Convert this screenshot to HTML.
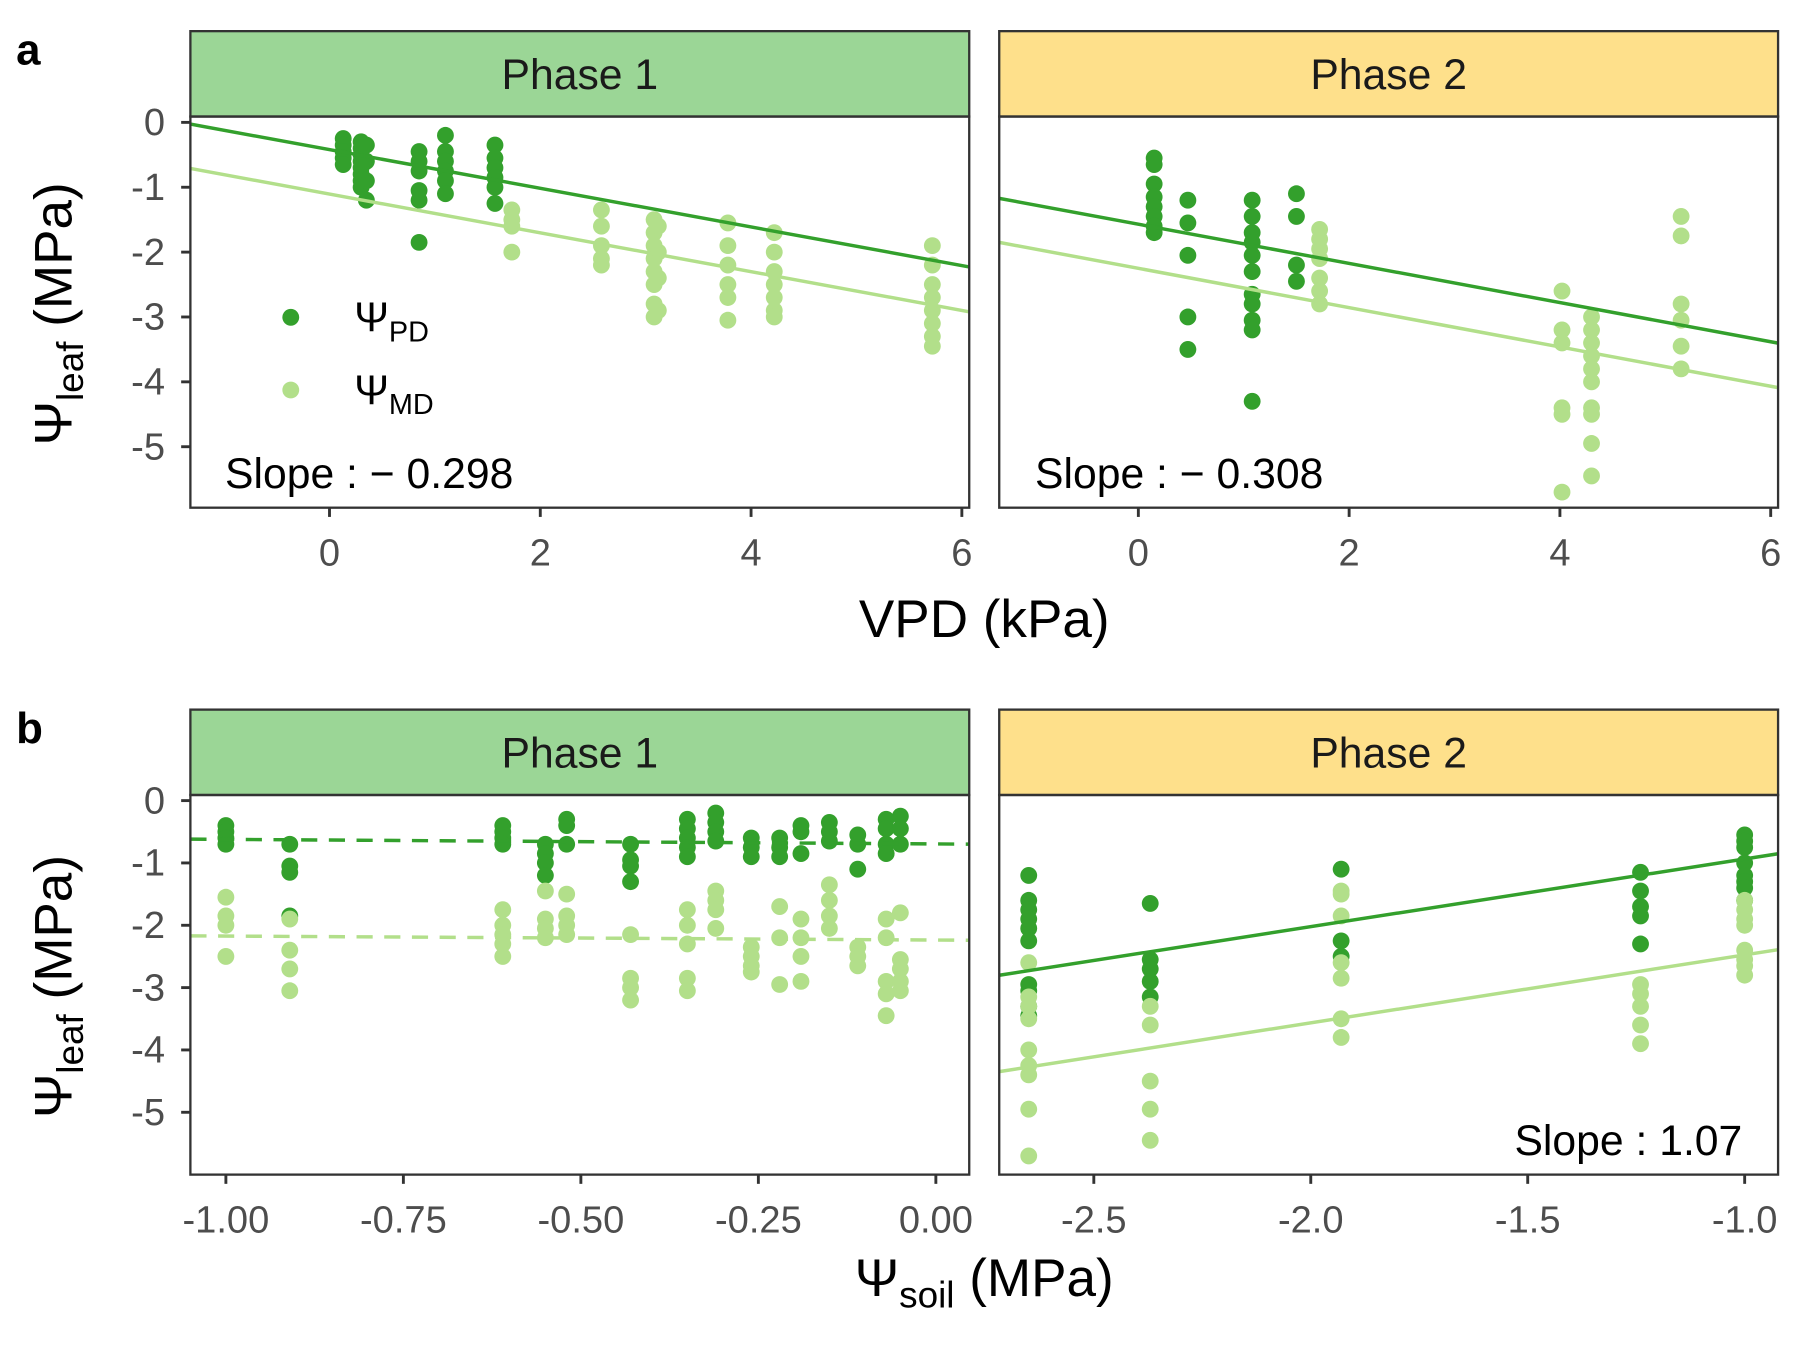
<!DOCTYPE html>
<html><head><meta charset="utf-8"><style>
html,body{margin:0;padding:0;background:#fff}
svg{display:block;font-family:"Liberation Sans",Arial,sans-serif}
</style></head><body>
<svg id="fig" width="1800" height="1350" viewBox="0 0 1560 1170" xmlns="http://www.w3.org/2000/svg">
<text x="14" y="56" font-size="38" font-weight="bold">a</text>
<text x="14" y="644" font-size="38" font-weight="bold">b</text>
<text x="853" y="552" font-size="46" text-anchor="middle">VPD (kPa)</text>
<text x="853" y="1123" font-size="46" text-anchor="middle">Ψ<tspan font-size="32" dy="10">soil</tspan><tspan dy="-10"> (MPa)</tspan></text>
<text transform="translate(62,272) rotate(-90)" font-size="46" text-anchor="middle">Ψ<tspan font-size="32" dy="10">leaf</tspan><tspan dy="-10"> (MPa)</tspan></text>
<text transform="translate(62,855) rotate(-90)" font-size="46" text-anchor="middle">Ψ<tspan font-size="32" dy="10">leaf</tspan><tspan dy="-10"> (MPa)</tspan></text>
<g id="layer"></g>
</svg>
<script>
// ---------- data ----------
const a1PdX=[0.13,0.3,0.35,0.85,1.1,1.57];
const a1PdY=[[-0.25,-0.35,-0.45,-0.55,-0.65],[-0.3,-0.4,-0.5,-0.6,-0.7,-0.8,-0.9,-1.0],[-0.35,-0.6,-0.9,-1.2],[-0.45,-0.6,-0.75,-1.05,-1.2,-1.85],[-0.2,-0.45,-0.6,-0.75,-0.9,-1.1],[-0.35,-0.55,-0.7,-0.85,-1.0,-1.25]];
const a1MdX=[1.73,2.58,3.08,3.12,3.78,4.22,5.72];
const a1MdY=[[-1.35,-1.5,-1.6,-2.0],[-1.35,-1.6,-1.9,-2.1,-2.2],[-1.5,-1.7,-1.9,-2.1,-2.3,-2.5,-2.8,-3.0],[-1.6,-2.0,-2.4,-2.9],[-1.55,-1.9,-2.2,-2.5,-2.7,-3.05],[-1.7,-2.0,-2.3,-2.5,-2.7,-2.9,-3.0],[-1.9,-2.2,-2.5,-2.7,-2.9,-3.1,-3.3,-3.45]];
const a1Fit={pd:[-0.42,-0.298],md:[-1.105,-0.299]};
const a2PdX=[0.15,0.47,1.08,1.5];
const a2PdY=[[-0.55,-0.65,-0.95,-1.15,-1.3,-1.45,-1.6,-1.7],[-1.2,-1.55,-2.05,-3.0,-3.5],[-1.2,-1.45,-1.7,-1.85,-2.05,-2.3,-2.65,-2.8,-3.05,-3.2,-4.3],[-1.1,-1.45,-2.2,-2.45]];
const a2MdX=[1.72,4.02,4.3,5.15];
const a2MdY=[[-1.65,-1.8,-1.95,-2.1,-2.4,-2.6,-2.8],[-2.6,-3.2,-3.4,-4.4,-4.5,-5.7],[-3.0,-3.2,-3.4,-3.6,-3.8,-4.0,-4.4,-4.5,-4.95,-5.45],[-1.45,-1.75,-2.8,-3.05,-3.45,-3.8]];
const a2Fit={pd:[-1.57,-0.302],md:[-2.25,-0.303]};
const b1X=[-1.0,-0.91,-0.61,-0.55,-0.52,-0.43,-0.35,-0.31,-0.26,-0.22,-0.19,-0.15,-0.11,-0.07,-0.05];
const b1PdY=[[-0.4,-0.5,-0.6,-0.7],[-0.7,-1.05,-1.15,-1.85],[-0.4,-0.5,-0.6,-0.7],[-0.7,-0.85,-1.0,-1.2],[-0.3,-0.4,-0.7],[-0.7,-0.95,-1.05,-1.3],[-0.3,-0.45,-0.6,-0.75,-0.9],[-0.2,-0.35,-0.5,-0.65],[-0.6,-0.75,-0.9],[-0.6,-0.75,-0.9],[-0.4,-0.5,-0.85],[-0.35,-0.5,-0.65],[-0.55,-0.7,-1.1],[-0.3,-0.45,-0.7,-0.85],[-0.25,-0.45,-0.7]];
const b1MdY=[[-1.55,-1.85,-2.0,-2.5],[-1.9,-2.4,-2.7,-3.05],[-1.75,-2.0,-2.15,-2.3,-2.5],[-1.45,-1.9,-2.05,-2.2],[-1.5,-1.85,-2.0,-2.15],[-2.15,-2.85,-3.0,-3.2],[-1.75,-2.0,-2.3,-2.85,-3.05],[-1.45,-1.6,-1.75,-2.05],[-2.35,-2.5,-2.65,-2.75],[-1.7,-2.2,-2.95],[-1.9,-2.2,-2.5,-2.9],[-1.35,-1.6,-1.85,-2.05],[-2.35,-2.5,-2.65],[-1.9,-2.2,-2.9,-3.1,-3.45],[-1.8,-2.55,-2.7,-2.9,-3.05]];
const b1Fit={pd:[-0.695,-0.073],md:[-2.237,-0.064]};
const b2X=[-2.65,-2.37,-1.93,-1.24,-1.0];
const b2PdY=[[-1.2,-1.6,-1.75,-1.9,-2.05,-2.25,-2.95,-3.05,-3.3,-3.45],[-1.65,-2.55,-2.7,-2.9,-3.15],[-1.1,-2.25,-2.5],[-1.15,-1.45,-1.7,-1.85,-2.3],[-0.55,-0.65,-0.75,-1.0,-1.2,-1.3,-1.4,-1.6]];
const b2MdY=[[-2.6,-3.15,-3.3,-3.5,-4.0,-4.25,-4.4,-4.95,-5.7],[-3.3,-3.6,-4.5,-4.95,-5.45],[-1.45,-1.5,-1.85,-2.6,-2.85,-3.5,-3.8],[-2.95,-3.1,-3.3,-3.6,-3.9],[-1.6,-1.75,-1.9,-2.0,-2.4,-2.55,-2.65,-2.8]];
const b2Fit={pd:[0.15,1.086],md:[-1.385,1.09]};
const yTicks=[0,-1,-2,-3,-4,-5];
const yTickLabels=["0","-1","-2","-3","-4","-5"];
const aXTicks=[0,2,4,6];
const aXTickLabels=["0","2","4","6"];
const b1XTicks=[-1,-0.75,-0.5,-0.25,0];
const b1XTickLabels=["-1.00","-0.75","-0.50","-0.25","0.00"];
const b2XTicks=[-2.5,-2,-1.5,-1];
const b2XTickLabels=["-2.5","-2.0","-1.5","-1.0"];
// ---------- drawing ----------
const NS="http://www.w3.org/2000/svg";
const layer=document.getElementById('layer');
const DARK="#33a02c",LIGHT="#b2df8a";
function mk(tag,attrs,parent){const e=document.createElementNS(NS,tag);for(const k in attrs)e.setAttribute(k,attrs[k]);(parent||layer).appendChild(e);return e;}
let clipN=0;
function panel(o){
  const sx=v=>o.x0+(v-o.xmin)/(o.xmax-o.xmin)*(o.x1-o.x0);
  const sy=v=>o.y0+(o.ymax-v)/(o.ymax-o.ymin)*(o.y1-o.y0);
  const g=mk('g',{});
  
  
  const strip=mk('rect',{x:o.x0,y:o.sy0,width:o.x1-o.x0,height:o.y0-o.sy0,fill:o.stripFill,stroke:'#333',"stroke-width":2},g);
  
  
  const st=mk('text',{x:(o.x0+o.x1)/2,y:(o.sy0+o.y0)/2+13,"font-size":37,"text-anchor":"middle",fill:'#1a1a1a'},g);
  st.textContent=o.strip;
  
  
  const cid='clip'+(clipN++);
  const cp=mk('clipPath',{id:cid},g);mk('rect',{x:o.x0,y:o.y0,width:o.x1-o.x0,height:o.y1-o.y0},cp);
  const pg=mk('g',{"clip-path":'url(#'+cid+')'},g);
  function pts(xs,ys,col,nm){xs.forEach((x,i)=>ys[i].forEach(y=>{const c=mk('circle',{cx:sx(x),cy:sy(y),r:7.3,fill:col},pg);
    
    }));}
  pts(o.pdX,o.pdY,DARK,'point-pd');
  pts(o.mdX,o.mdY,LIGHT,'point-md');
  function fit(f,col,nm){const l=mk('line',{x1:sx(o.xmin),y1:sy(f[0]+f[1]*o.xmin),x2:sx(o.xmax),y2:sy(f[0]+f[1]*o.xmax),stroke:col,"stroke-width":3},pg);
    if(o.dash)l.setAttribute('stroke-dasharray','14 10');
    
    }
  fit(o.fit.md,LIGHT,'fit-line-md');
  fit(o.fit.pd,DARK,'fit-line-pd');
  mk('rect',{x:o.x0,y:o.y0,width:o.x1-o.x0,height:o.y1-o.y0,fill:'none',stroke:'#333',"stroke-width":2},g);
  o.xt.forEach((t,i)=>{mk('line',{x1:sx(t),x2:sx(t),y1:o.y1,y2:o.y1+8,stroke:'#333',"stroke-width":2.5},g);
    const tl=mk('text',{x:sx(t),y:o.y1+50,"font-size":33,"text-anchor":"middle",fill:'#4d4d4d'},g);tl.textContent=o.xtl[i];
    
    });
  if(o.yaxis){yTicks.forEach((t,i)=>{mk('line',{x1:o.x0-8,x2:o.x0,y1:sy(t),y2:sy(t),stroke:'#333',"stroke-width":2.5},g);
    const tl=mk('text',{x:o.x0-22,y:sy(t)+11,"font-size":33,"text-anchor":"end",fill:'#4d4d4d'},g);tl.textContent=yTickLabels[i];
    
    });}
  if(o.slope){const s=mk('text',{x:o.slopeX,y:o.y1-17,"font-size":37,"text-anchor":o.slopeAnchor||'start',fill:'#000'},g);s.textContent=o.slope;
    
    }
  return {sx,sy};
}
panel({name:'panel-a-phase1',x0:165,x1:840,sy0:27,y0:101,y1:440,xmin:-1.32,xmax:6.07,ymin:-5.94,ymax:0.09,strip:'Phase 1',stripFill:'#9bd696',pdX:a1PdX,pdY:a1PdY,mdX:a1MdX,mdY:a1MdY,fit:a1Fit,xt:aXTicks,xtl:aXTickLabels,yaxis:true,slope:'Slope : − 0.298',slopeX:195});
panel({name:'panel-a-phase2',x0:866,x1:1541,sy0:27,y0:101,y1:440,xmin:-1.32,xmax:6.07,ymin:-5.94,ymax:0.09,strip:'Phase 2',stripFill:'#fee08b',pdX:a2PdX,pdY:a2PdY,mdX:a2MdX,mdY:a2MdY,fit:a2Fit,xt:aXTicks,xtl:aXTickLabels,yaxis:false,slope:'Slope : − 0.308',slopeX:897});
panel({name:'panel-b-phase1',x0:165,x1:840,sy0:615,y0:689,y1:1018,xmin:-1.05,xmax:0.047,ymin:-6.0,ymax:0.09,strip:'Phase 1',stripFill:'#9bd696',pdX:b1X,pdY:b1PdY,mdX:b1X,mdY:b1MdY,fit:b1Fit,xt:b1XTicks,xtl:b1XTickLabels,yaxis:true,dash:true});
panel({name:'panel-b-phase2',x0:866,x1:1541,sy0:615,y0:689,y1:1018,xmin:-2.718,xmax:-0.923,ymin:-6.0,ymax:0.09,strip:'Phase 2',stripFill:'#fee08b',pdX:b2X,pdY:b2PdY,mdX:b2X,mdY:b2MdY,fit:b2Fit,xt:b2XTicks,xtl:b2XTickLabels,yaxis:false,slope:'Slope : 1.07',slopeX:1510,slopeAnchor:'end'});
// legend
const lg=mk('g',{});


mk('circle',{cx:252,cy:275,r:7.3,fill:DARK},lg);
mk('circle',{cx:252,cy:338,r:7.3,fill:LIGHT},lg);
const t1=mk('text',{x:307,y:287,"font-size":36},lg);t1.innerHTML='Ψ<tspan font-size="25" dy="9">PD</tspan>';


const t2=mk('text',{x:307,y:350,"font-size":36},lg);t2.innerHTML='Ψ<tspan font-size="25" dy="9">MD</tspan>';


</script>
</body></html>
